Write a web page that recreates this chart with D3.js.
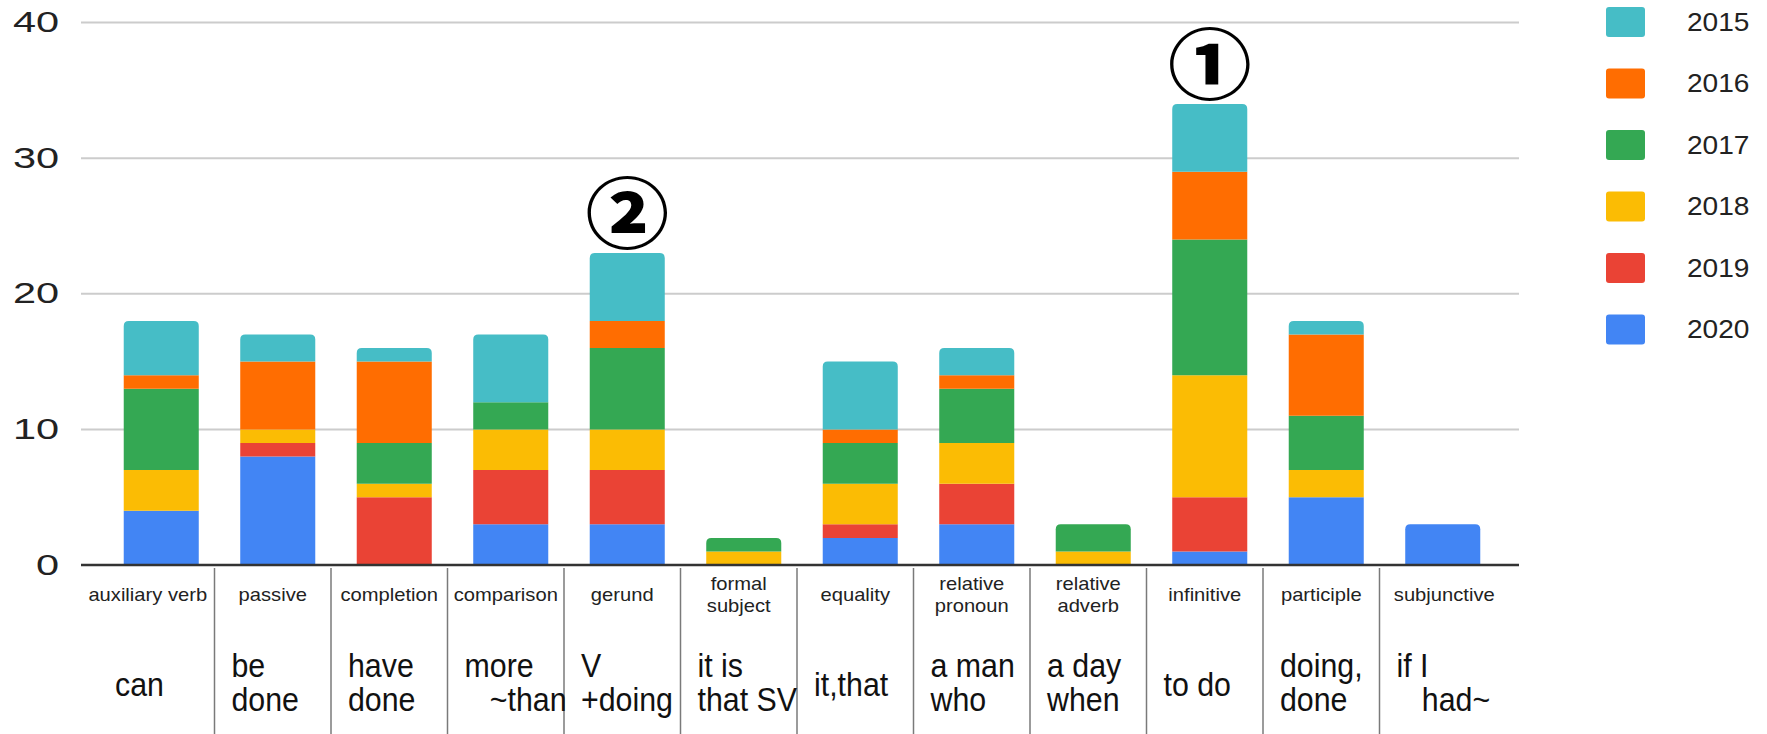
<!DOCTYPE html>
<html><head><meta charset="utf-8">
<script src="https://cdn.jsdelivr.net/npm/d3@7"></script>
<style>body{margin:0;background:#fff;} svg{display:block} text{white-space:pre}</style>
</head><body><svg id="c" width="1767" height="734"></svg>
<script>
// ---------- data ----------
const categories = ["auxiliary verb","passive","completion","comparison","gerund","formal subject","equality","relative pronoun","relative adverb","infinitive","participle","subjunctive"];
const categoryLines = [["auxiliary verb"],["passive"],["completion"],["comparison"],["gerund"],["formal","subject"],["equality"],["relative","pronoun"],["relative","adverb"],["infinitive"],["participle"],["subjunctive"]];
const examples = [["can"],["be","done"],["have","done"],["more","   ~than"],["V","+doing"],["it is","that SV"],["it,that"],["a man","who"],["a day","when"],["to do"],["doing,","done"],["if I","   had~"]];
const years = ["2015","2016","2017","2018","2019","2020"];
const v2015 = [4,2,1,5,5,0,5,2,0,5,1,0];
const v2016 = [1,5,6,0,2,0,1,1,0,5,6,0];
const v2017 = [6,0,3,2,6,1,3,4,2,10,4,0];
const v2018 = [3,1,1,3,3,1,3,3,1,9,2,0];
const v2019 = [0,1,5,4,4,0,1,3,0,4,0,0];
const v2020 = [4,8,0,3,3,0,2,3,0,1,5,3];
const yTicks = [0,10,20,30,40];
const annotations = [{category:"infinitive", mark:"①"},{category:"gerund", mark:"②"}];

// ---------- build ----------
const seriesValues = {"2015":v2015,"2016":v2016,"2017":v2017,"2018":v2018,"2019":v2019,"2020":v2020};
const colors = {"2015":"#46BDC6","2016":"#FF6D01","2017":"#34A853","2018":"#FBBC04","2019":"#EA4335","2020":"#4285F4"};
const table = categories.map((c,i)=>{const r={cat:c}; years.forEach(y=>r[y]=seriesValues[y][i]); return r;});
const stackKeys = years.slice().reverse(); // 2020 at bottom
const stacked = d3.stack().keys(stackKeys)(table);

const svg = d3.select("#c");
const plotL = 81, plotR = 1519;
const x = d3.scaleBand().domain(categories).range([103,1501]).paddingInner(0.356).paddingOuter(0.178);
const y = d3.scaleLinear().domain([0,40]).range([565,22.5]);
const step = x.step();
const font = "'Liberation Sans', Arial, sans-serif";

function stretched(g, tx, ty, sx){ return g.attr("transform",`translate(${tx},${ty}) scale(${sx},1)`); }

// gridlines
svg.append("g").selectAll("line").data(yTicks.filter(t=>t>0)).join("line")
  .attr("x1",plotL).attr("x2",plotR).attr("y1",d=>y(d)).attr("y2",d=>y(d))
  .attr("stroke","#cccccc").attr("stroke-width",2);

// y labels
svg.append("g").selectAll("text").data(yTicks).join("text")
  .each(function(d){ stretched(d3.select(this),59,y(d),1.43); })
  .attr("text-anchor","end").attr("dominant-baseline","central")
  .attr("font-family",font).attr("font-size",29).attr("fill","#222")
  .text(d=>d);

// bars
const topKey = {};
table.forEach(r=>{ let t=null; stackKeys.forEach(k=>{ if(r[k]>0) t=k; }); topKey[r.cat]=t; });
function roundTop(x0,y0,w,h,r){
  r=Math.min(r,h);
  return `M${x0},${y0+h}V${y0+r}Q${x0},${y0} ${x0+r},${y0}H${x0+w-r}Q${x0+w},${y0} ${x0+w},${y0+r}V${y0+h}Z`;
}
stacked.forEach(s=>{
  svg.append("g").attr("fill",colors[s.key]).selectAll("path").data(s.filter(d=>d[1]>d[0])).join("path")
    .attr("d",d=>{
      const x0=x(d.data.cat), w=x.bandwidth(), y0=y(d[1]), h=y(d[0])-y(d[1]);
      return topKey[d.data.cat]===s.key ? roundTop(x0,y0,w,h,5) : `M${x0},${y0}h${w}v${h}h${-w}Z`;
    });
});

// axis line
svg.append("line").attr("x1",plotL).attr("x2",plotR).attr("y1",y(0)).attr("y2",y(0))
  .attr("stroke","#333").attr("stroke-width",2.5);

// separators of label table
const seps = categories.slice(1).map(c=>x(c)-step*x.paddingInner()/2 - 5);
svg.append("g").selectAll("line").data(seps).join("line")
  .attr("x1",d=>d).attr("x2",d=>d).attr("y1",568).attr("y2",734)
  .attr("stroke","#7a7a7a").attr("stroke-width",1.5);

// small category labels (centred in their table cell)
const n = categories.length;
categories.forEach((c,i)=>{
  const left = i===0 ? plotL : seps[i-1];
  const right = i===n-1 ? plotR-10 : seps[i];
  const cx = (left+right)/2;
  const lines = categoryLines[i];
  const base = lines.length===1 ? [601] : [590,612];
  lines.forEach((ln,j)=>{
    stretched(svg.append("text"),cx,base[j],1.12)
      .attr("text-anchor","middle").attr("font-family",font).attr("font-size",18)
      .attr("fill","#222").text(ln);
  });
});

// example labels
categories.forEach((c,i)=>{
  const lx = x(c)-step*x.paddingInner()/2 + 12;
  const lines = examples[i];
  const base = lines.length===1 ? [696] : [677,711];
  lines.forEach((ln,j)=>{
    stretched(svg.append("text"),lx,base[j],0.92)
      .attr("font-family",font).attr("font-size",33).attr("fill","#111").text(ln);
  });
});

// annotations
const totals = {}; table.forEach(r=>totals[r.cat]=d3.sum(years,k=>r[k]));
annotations.forEach(a=>{
  stretched(svg.append("text"), x(a.category)+x.bandwidth()/2, y(totals[a.category])-44, 1.1)
    .attr("text-anchor","middle").attr("dominant-baseline","central")
    .attr("font-family","'Noto Sans CJK JP', 'DejaVu Sans', sans-serif").attr("font-weight",900)
    .attr("font-size",76).attr("fill","#000").text(a.mark);
});

// legend
const lg = svg.append("g");
years.forEach((yr,i)=>{
  const cy = 22 + i*61.5;
  lg.append("rect").attr("x",1606).attr("y",cy-15).attr("width",39).attr("height",30).attr("rx",3)
    .attr("fill",colors[yr]);
  stretched(lg.append("text"),1687,cy,1.08).attr("dominant-baseline","central")
    .attr("font-family",font).attr("font-size",26).attr("fill","#222").text(yr);
});
</script></body></html>
